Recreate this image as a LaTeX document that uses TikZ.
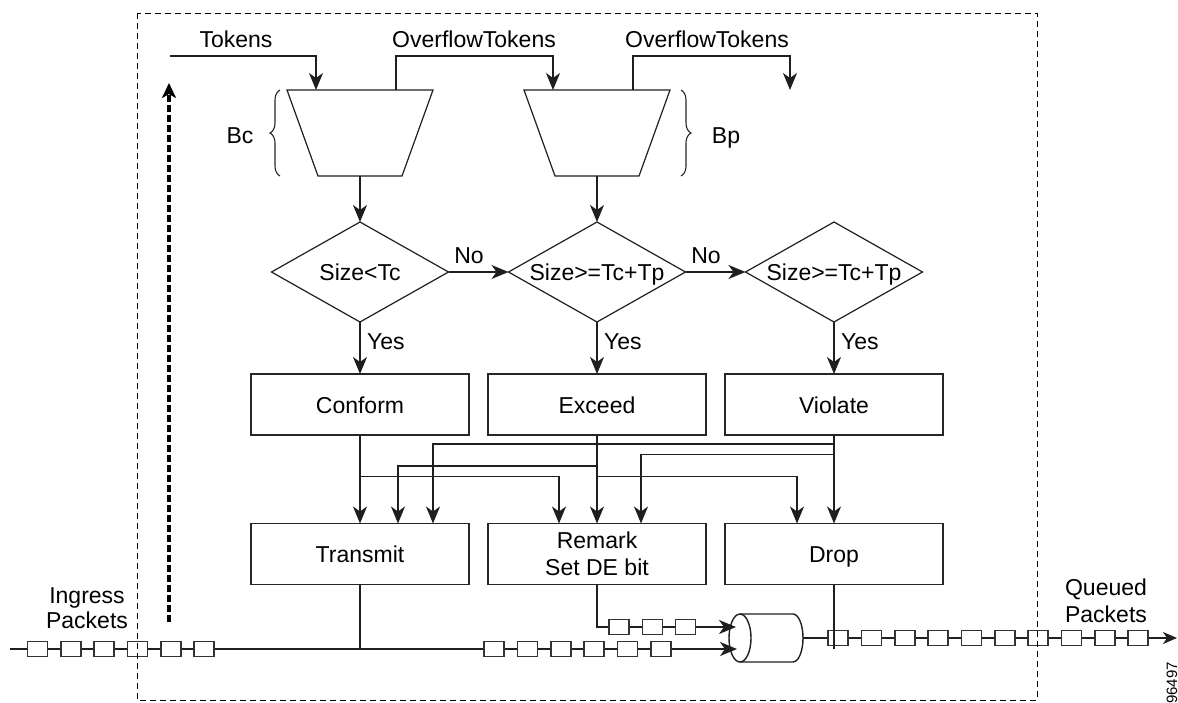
\documentclass[tikz,border=0pt]{standalone}
\usepackage{fontspec}
\setmainfont{Liberation Sans}
\usetikzlibrary{arrows.meta,shapes.geometric,decorations.pathreplacing}
\begin{document}
\begin{tikzpicture}[x=1pt,y=-1pt,
  every node/.style={font=\fontsize{23}{27}\selectfont, inner sep=0pt, outer sep=0pt},
  ln/.style={line width=1.4pt, draw=black!88},
  arr/.style={ln, -{Stealth[length=17pt,width=14pt,inset=5pt]}},
  box/.style={draw=black!85, line width=1.4pt, minimum width=218pt, minimum height=61pt},
  boxt/.style={box, text height=17pt, text depth=0pt},
  dia/.style={diamond, draw=black!88, line width=1.2pt, minimum width=177pt, minimum height=100pt, inner sep=0pt},
  bucket/.style={minimum width=146pt, minimum height=86pt},
  trapline/.style={draw=black!88, line width=1.2pt, line join=miter},
  pkt/.style={draw=black!80, fill=white, line width=1.1pt, minimum width=20pt, minimum height=15.5pt},
  lbl/.style={anchor=base},
  yes/.style={anchor=base west}
]
\useasboundingbox (0,0) rectangle (1178,702);

% buckets
\node[bucket] (t1) at (360,133) {};
\node[bucket] (t2) at (597,133) {};
\foreach \t in {t1,t2}
  \draw[trapline] (\t.north west) -- (\t.north east) -- ([xshift=-31pt]\t.south east) -- ([xshift=31pt]\t.south west) -- cycle;
\draw[decorate, decoration={brace, amplitude=10pt}, line width=1.1pt, draw=black!85] (280,176) -- (280,90);
\draw[decorate, decoration={brace, amplitude=10pt}, line width=1.1pt, draw=black!85] (681,90) -- (681,176);
\node[lbl] (bc) at (240,143) {Bc};
\node[lbl] (bp) at (726,143) {Bp};

% token feeds
\node[lbl] (tok) at (236,47) {Tokens};
\node[lbl] (ovt1) at (474,47) {OverflowTokens};
\node[lbl] (ovt2) at (707,47) {OverflowTokens};
\coordinate (tokstart) at (170,56);
\coordinate (ovend) at (790,90);
\draw[arr] (tokstart) -| ([xshift=-44pt]t1.north);
\draw[arr] ([xshift=36pt]t1.north) -- ++(0,-34) -| ([xshift=-44pt]t2.north);
\draw[arr] ([xshift=36pt]t2.north) -- ++(0,-34) -| (ovend);

% decisions
\node[dia] (d1) at (360,272) {};
\node[dia] (d2) at (597,272) {};
\node[dia] (d3) at (834,272) {};
\node[lbl] (d1t) at (360,280) {Size<Tc};
\node[lbl] (d2t) at (597,280) {Size>=Tc+Tp};
\node[lbl] (d3t) at (834,280) {Size>=Tc+Tp};
\draw[arr] (t1.south) -- (d1.north);
\draw[arr] (t2.south) -- (d2.north);
\draw[arr] (d1.east) -- (d2.west);
\draw[arr] (d2.east) -- (d3.west);
\node[lbl] (no1) at (469,263) {No};
\node[lbl] (no2) at (706,263) {No};

% results
\node[boxt] (conform) at (360,404.5) {Conform};
\node[boxt] (exceed) at (597,404.5) {Exceed};
\node[boxt] (violate) at (834,404.5) {Violate};
\draw[arr] (d1.south) -- (conform.north);
\draw[arr] (d2.south) -- (exceed.north);
\draw[arr] (d3.south) -- (violate.north);
\node[yes] (y1) at (367,349) {Yes};
\node[yes] (y2) at (604,349) {Yes};
\node[yes] (y3) at (841,349) {Yes};

% actions
\node[boxt] (transmit) at (360,554) {Transmit};
\node[box, align=center] (remark) at (597,554) {Remark\\Set DE bit};
\node[boxt] (drop) at (834,554) {Drop};

\draw[arr] (conform.south) -- (transmit.north);
\draw[arr] ([yshift=-41.7pt]conform.south) -| ([xshift=-38pt]remark.north);
\draw[arr] (exceed.south) -- (remark.north);
\draw[arr] ([yshift=-31pt]exceed.south) -| ([xshift=38pt]transmit.north);
\draw[arr] ([yshift=-41.7pt]exceed.south) -| ([xshift=-37pt]drop.north);
\draw[arr] (violate.south) -- (drop.north);
\draw[arr] ([yshift=-9pt]violate.south) -| ([xshift=73pt]transmit.north);
\draw[arr] ([yshift=-19.7pt]violate.south) -| ([xshift=44pt]remark.north);

% gate
\draw[ln, fill=white] (740,614) -- (793,614) arc[start angle=-90, end angle=90, x radius=10, y radius=24]
  -- (740,662) arc[start angle=90, end angle=270, x radius=11, y radius=24] -- cycle;
\draw[ln] (740,614) arc[start angle=-90, end angle=90, x radius=11, y radius=24];
\coordinate (gin1) at (737,649);
\coordinate (gin2) at (736,627);
\coordinate (gout) at (803,638);
\coordinate (instart) at (10,649);
\coordinate (outend) at (1177,638);

% packet flows
\draw[ln] (transmit.south) -- (transmit.south |- instart);
\draw[arr] (instart) -- (gin1);
\draw[arr] (remark.south) |- (gin2);
\draw[ln, -{Stealth[length=14pt,width=12pt,inset=4pt]}] (gout) -- (outend);
\foreach \x [count=\i] in {37.5,71,104,137.5,171,204,494,527.5,561,594,627.5,661}
  \node[pkt] (pin\i) at (\x,649) {};
\foreach \x [count=\i] in {619,652.5,685.5}
  \node[pkt] (prm\i) at (\x,627) {};
\foreach \x [count=\i] in {838,871.5,905,938,971.5,1005,1038,1071.5,1105,1138}
  \node[pkt] (pout\i) at (\x,638) {};
\draw[ln] (drop.south) -- ++(0,64);

\node[lbl] (ing1) at (87,603) {Ingress};
\node[lbl] (ing2) at (87,628) {Packets};
\node[lbl] (q1) at (1106,595) {Queued};
\node[lbl] (q2) at (1106,622) {Packets};
\node[rotate=90, font=\fontsize{15}{18}\selectfont] (fig) at (1172,683) {96497};

% thick dashed arrow
\coordinate (dstart) at (169,622);
\coordinate (dend) at (169,83);
\draw[line width=3.5pt, dash pattern=on 7pt off 3pt, -{Stealth[length=15pt,width=14pt,inset=4pt]}] (dstart) -- (dend);

% border
\draw[line width=1pt, dash pattern=on 6pt off 4pt] (137,13) rectangle (1037,700);
\end{tikzpicture}
\end{document}
